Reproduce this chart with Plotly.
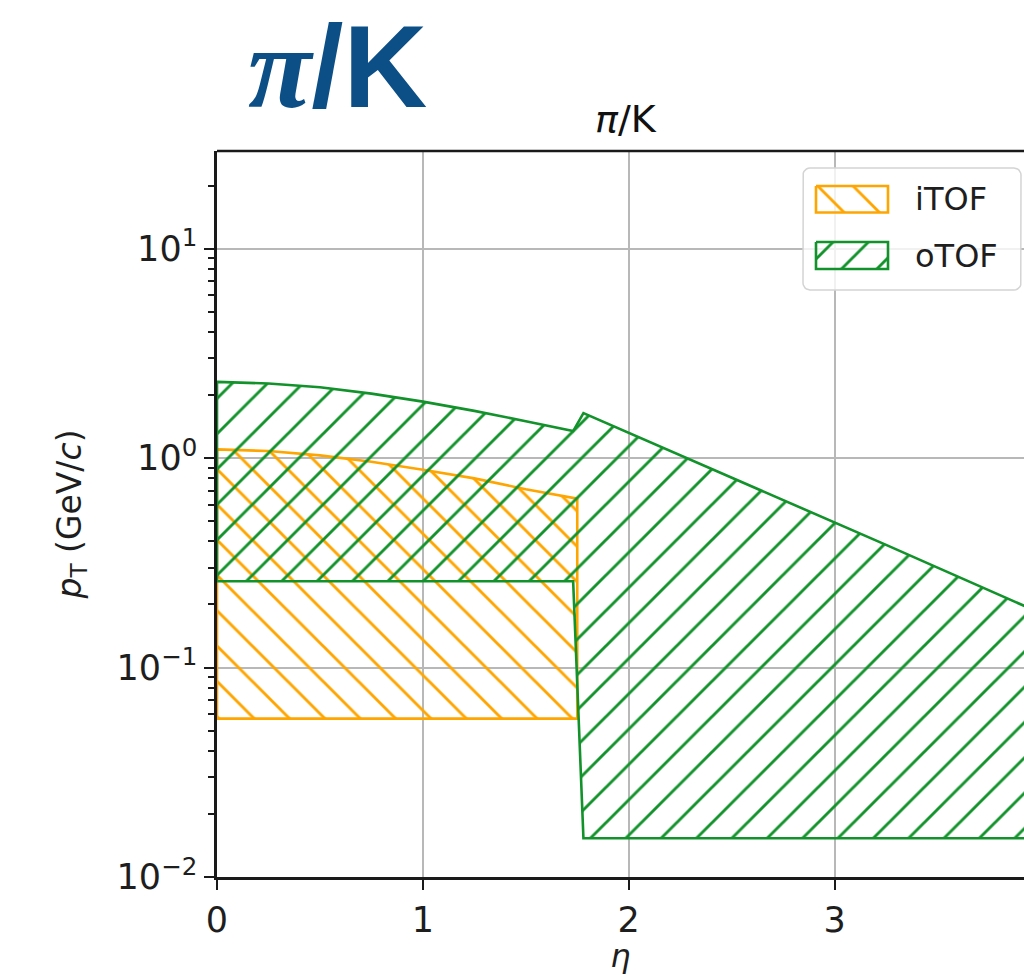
import math
import plotly.graph_objects as go

# Inner TOF (iTOF) pi/K separation band in (eta, pT [GeV/c])
itof_eta = [0.0, 0.25, 0.5, 0.75, 1.0, 1.25, 1.5, 1.75]
itof_top = [1.10, 1.08, 1.03, 0.96, 0.88, 0.80, 0.71, 0.64]
itof_bottom = [0.057, 0.057, 0.057, 0.057, 0.057, 0.057, 0.057, 0.057]

# Outer TOF (oTOF): barrel part up to eta~1.73, endcap part beyond
otof_eta = [0.0, 0.25, 0.5, 0.75, 1.0, 1.25, 1.5, 1.73,
            1.78, 2.0, 2.25, 2.5, 2.75, 3.0, 3.25, 3.5, 3.75, 4.0]
otof_top = [2.31, 2.27, 2.18, 2.03, 1.86, 1.68, 1.50, 1.345,
            1.64, 1.32, 1.04, 0.81, 0.63, 0.495, 0.385, 0.30, 0.234, 0.182]
otof_bottom = [0.258, 0.258, 0.258, 0.258, 0.258, 0.258, 0.258, 0.258,
               0.0153, 0.0153, 0.0153, 0.0153, 0.0153, 0.0153, 0.0153, 0.0153, 0.0153, 0.0153]

series_names = ["iTOF", "oTOF"]
x_ticks = [0, 1, 2, 3, 4]
y_tickvals = [0.01, 0.1, 1, 10]
y_ticktext = ["10<sup>−2</sup>", "10<sup>−1</sup>", "10<sup>0</sup>", "10<sup>1</sup>"]

ORANGE = "#ffa500"
GREEN = "#12922b"
FONT = "DejaVu Sans"
TEXT = "#1e1e1e"

W, H = 1024, 975
L, R, T, B = 217, 0, 151, 98
PW, PH = W - L - R, H - T - B


def paper_x(px):
    return (px - L) / PW


def paper_y(py):
    return (H - B - py) / PH


def band(eta, top, bottom):
    xs = list(eta) + list(reversed(eta)) + [eta[0]]
    ys = list(top) + list(reversed(bottom)) + [top[0]]
    return xs, ys


def hatch(shape, color):
    return dict(shape=shape, fgcolor=color, bgcolor="rgba(0,0,0,0)",
                size=25, solidity=0.115, fillmode="replace")


fig = go.Figure()

for name, eta, top, bot, color, shape in [
    (series_names[0], itof_eta, itof_top, itof_bottom, ORANGE, "\\"),
    (series_names[1], otof_eta, otof_top, otof_bottom, GREEN, "/"),
]:
    xs, ys = band(eta, top, bot)
    fig.add_trace(go.Scatter(
        x=xs, y=ys, mode="lines", fill="toself",
        fillcolor="rgba(0,0,0,0)", fillpattern=hatch(shape, color),
        line=dict(color=color, width=2.6),
        name=name, showlegend=False, hoverinfo="skip",
    ))

# Legend frame (rounded, semi-transparent) on a pixel-space overlay axis
leg_left, leg_top, leg_right, leg_bot, rad = 803, 168, 1021, 290, 7
frame_x, frame_y = [], []
corners = [(leg_right - rad, leg_top + rad, -90), (leg_right - rad, leg_bot - rad, 0),
           (leg_left + rad, leg_bot - rad, 90), (leg_left + rad, leg_top + rad, 180)]
for cx, cy, a0 in corners:
    for k in range(7):
        a = math.radians(a0 + 15 * k)
        frame_x.append(cx + rad * math.cos(a))
        frame_y.append(cy + rad * math.sin(a))
frame_x.append(frame_x[0])
frame_y.append(frame_y[0])
fig.add_trace(go.Scatter(
    x=frame_x, y=frame_y, xaxis="x2", yaxis="y2", mode="lines", fill="toself",
    fillcolor="rgba(255,255,255,0.8)", line=dict(color="#d4d4d4", width=1.5),
    showlegend=False, hoverinfo="skip",
))

patch_x0, patch_x1 = 816, 888
legend_rows = [(series_names[0], ORANGE, "\\", 186, 212.5), (series_names[1], GREEN, "/", 242, 269)]
for name, color, shape, y0, y1 in legend_rows:
    fig.add_trace(go.Scatter(
        x=[patch_x0, patch_x1, patch_x1, patch_x0, patch_x0],
        y=[y0, y0, y1, y1, y0],
        xaxis="x2", yaxis="y2", mode="lines", fill="toself",
        fillcolor="rgba(0,0,0,0)", fillpattern=hatch(shape, color),
        line=dict(color=color, width=2.6), showlegend=False, hoverinfo="skip",
    ))
    fig.add_annotation(x=paper_x(913), y=paper_y((y0 + y1) / 2), xref="paper", yref="paper",
                       text=name, showarrow=False, xanchor="left", yanchor="middle",
                       font=dict(family=FONT, size=32, color=TEXT))

# Axes title above the frame
fig.add_annotation(x=paper_x(626), y=paper_y(119), xref="paper", yref="paper",
                   text="<i>π</i>/K", showarrow=False, xanchor="center", yanchor="middle",
                   font=dict(family=FONT, size=38, color="#111111"))

# Large slide heading
fig.add_annotation(x=paper_x(246), y=paper_y(0), xref="paper", yref="paper",
                   text="<span style='font-family:Liberation Serif'><b><i>π</i></b></span><b>/K</b>",
                   showarrow=False, xanchor="left", yanchor="top",
                   font=dict(family="Liberation Sans", size=116, color="#0b4f86"))

# Top frame line
fig.add_shape(type="line", xref="paper", yref="paper", x0=0, x1=1, y0=1, y1=1,
              line=dict(color="#1a1a1a", width=2.5), layer="above")

axis_common = dict(showline=True, linecolor="#1a1a1a", linewidth=2.5,
                   ticks="outside", ticklen=10, tickwidth=2, tickcolor="#1a1a1a",
                   showgrid=True, gridcolor="#b8b8b8", gridwidth=1.6,
                   tickfont=dict(family=FONT, size=35, color=TEXT),
                   zeroline=False)

fig.update_layout(
    width=W, height=H,
    margin=dict(l=L, r=R, t=T, b=B, pad=0),
    paper_bgcolor="white", plot_bgcolor="white",
    showlegend=False,
    xaxis=dict(range=[0, 3.92], tickvals=x_ticks, ticktext=[str(v) for v in x_ticks],
               title=dict(text="<i>η</i>", font=dict(family=FONT, size=32, color=TEXT),
                          standoff=4),
               **axis_common),
    yaxis=dict(type="log", range=[-2, 1.466], tickvals=y_tickvals, ticktext=y_ticktext,
               minor=dict(ticks="outside", ticklen=6, tickwidth=1.5, tickcolor="#1a1a1a",
                          dtick="D1", showgrid=False),
               title=dict(text="<i>p</i><sub>T</sub> (GeV/<i>c</i>)",
                          font=dict(family=FONT, size=33, color=TEXT), standoff=26),
               **axis_common),
    xaxis2=dict(overlaying="x", range=[L, W - R], visible=False, fixedrange=True),
    yaxis2=dict(overlaying="y", range=[H - B, T], visible=False, fixedrange=True),
)

fig.write_html("out.html")
